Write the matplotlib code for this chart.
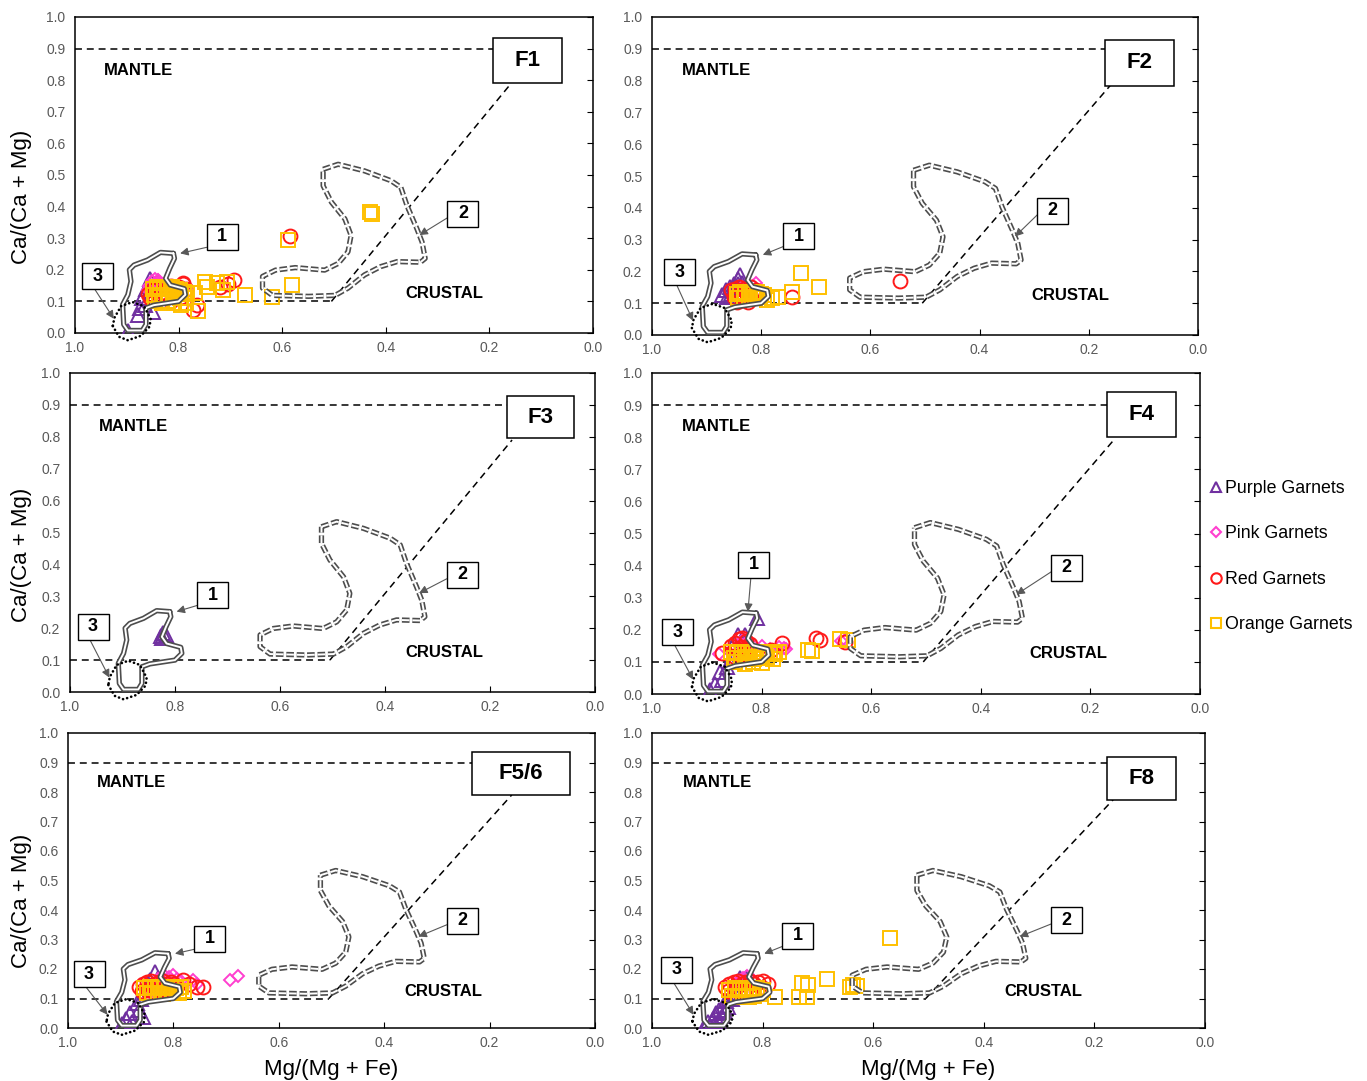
import matplotlib
matplotlib.use("Agg")
import matplotlib.pyplot as plt
from matplotlib.lines import Line2D
from matplotlib.patches import Rectangle

plt.rcParams["font.family"] = ["Liberation Sans", "DejaVu Sans"]
plt.rcParams["lines.scale_dashes"] = False

W, H = 1367, 1081

# ---------------- data: Mg/(Mg+Fe) (x) and Ca/(Ca+Mg) (y) per field ----------------
f1_purple_x = [0.897, 0.878, 0.875, 0.865, 0.849, 0.870, 0.858, 0.852, 0.845, 0.862, 0.855, 0.848, 0.840]
f1_purple_y = [0.005, 0.057, 0.079, 0.089, 0.067, 0.110, 0.150, 0.160, 0.155, 0.140, 0.170, 0.145, 0.165]
f1_pink_x = [0.858, 0.852, 0.846, 0.840, 0.835, 0.830, 0.855, 0.848, 0.842, 0.836, 0.828, 0.822, 0.860]
f1_pink_y = [0.150, 0.165, 0.172, 0.168, 0.160, 0.155, 0.140, 0.150, 0.158, 0.148, 0.150, 0.145, 0.135]
f1_red_x = [0.860, 0.852, 0.845, 0.838, 0.830, 0.822, 0.815, 0.808, 0.800, 0.792, 0.785, 0.855, 0.845,
            0.835, 0.825, 0.815, 0.805, 0.795, 0.791, 0.772, 0.765, 0.720, 0.705, 0.694, 0.585]
f1_red_y = [0.125, 0.135, 0.140, 0.145, 0.130, 0.140, 0.150, 0.135, 0.145, 0.155, 0.140, 0.110, 0.105,
            0.120, 0.110, 0.100, 0.120, 0.115, 0.157, 0.073, 0.090, 0.147, 0.155, 0.168, 0.307]
f1_orange_x = [0.850, 0.842, 0.835, 0.828, 0.820, 0.812, 0.805, 0.798, 0.790, 0.783, 0.848, 0.838,
               0.828, 0.818, 0.808, 0.798, 0.788, 0.845, 0.832, 0.820, 0.808, 0.795, 0.785,
               0.768, 0.762, 0.750, 0.746, 0.726, 0.714, 0.707, 0.672, 0.620, 0.581, 0.589, 0.430, 0.427]
f1_orange_y = [0.140, 0.145, 0.140, 0.145, 0.140, 0.145, 0.140, 0.135, 0.130, 0.125, 0.120, 0.115,
               0.120, 0.115, 0.120, 0.110, 0.110, 0.100, 0.095, 0.100, 0.095, 0.090, 0.095,
               0.126, 0.071, 0.160, 0.147, 0.157, 0.136, 0.162, 0.120, 0.115, 0.152, 0.294, 0.383, 0.377]

f2_purple_x = [0.872, 0.865, 0.858, 0.850, 0.843, 0.838, 0.862, 0.855, 0.848, 0.842, 0.835, 0.852, 0.845]
f2_purple_y = [0.125, 0.140, 0.150, 0.160, 0.175, 0.190, 0.120, 0.130, 0.145, 0.160, 0.165, 0.120, 0.130]
f2_pink_x = [0.835, 0.828, 0.815, 0.810]
f2_pink_y = [0.150, 0.140, 0.155, 0.165]
f2_red_x = [0.855, 0.848, 0.840, 0.832, 0.825, 0.818, 0.810, 0.850, 0.842, 0.834, 0.826, 0.818, 0.810,
            0.845, 0.835, 0.825, 0.744, 0.546]
f2_red_y = [0.140, 0.145, 0.150, 0.145, 0.140, 0.150, 0.140, 0.120, 0.125, 0.120, 0.125, 0.120, 0.130,
            0.105, 0.110, 0.105, 0.120, 0.170]
f2_orange_x = [0.845, 0.838, 0.830, 0.822, 0.815, 0.808, 0.800, 0.795, 0.842, 0.832, 0.822, 0.812,
               0.802, 0.790, 0.780, 0.769, 0.744, 0.728, 0.694]
f2_orange_y = [0.130, 0.135, 0.130, 0.135, 0.130, 0.135, 0.130, 0.125, 0.115, 0.115, 0.120, 0.115,
               0.120, 0.110, 0.115, 0.120, 0.136, 0.194, 0.152]

f3_purple_x = [0.826, 0.822, 0.818, 0.824]
f3_purple_y = [0.175, 0.185, 0.180, 0.170]

f4_purple_x = [0.895, 0.885, 0.873, 0.876, 0.864, 0.858, 0.843, 0.835, 0.830, 0.809, 0.850, 0.840]
f4_purple_y = [0.012, 0.030, 0.044, 0.070, 0.085, 0.100, 0.184, 0.170, 0.184, 0.236, 0.160, 0.150]
f4_pink_x = [0.878, 0.840, 0.832, 0.825, 0.818, 0.800, 0.785, 0.768, 0.760, 0.755, 0.648, 0.655]
f4_pink_y = [0.125, 0.160, 0.170, 0.165, 0.155, 0.150, 0.140, 0.145, 0.142, 0.140, 0.168, 0.165]
f4_red_x = [0.873, 0.855, 0.848, 0.842, 0.835, 0.828, 0.822, 0.852, 0.845, 0.838, 0.830, 0.823, 0.848,
            0.840, 0.832, 0.825, 0.782, 0.763, 0.700, 0.693, 0.648]
f4_red_y = [0.127, 0.150, 0.160, 0.170, 0.175, 0.165, 0.155, 0.130, 0.140, 0.145, 0.140, 0.135, 0.115,
            0.120, 0.125, 0.115, 0.137, 0.158, 0.173, 0.168, 0.163]
f4_orange_x = [0.855, 0.845, 0.835, 0.825, 0.815, 0.805, 0.795, 0.785, 0.775, 0.768, 0.850, 0.838,
               0.826, 0.814, 0.802, 0.790, 0.780, 0.848, 0.830, 0.815, 0.800, 0.715, 0.708, 0.657, 0.642]
f4_orange_y = [0.130, 0.128, 0.132, 0.130, 0.128, 0.132, 0.130, 0.128, 0.125, 0.130, 0.112, 0.110,
               0.115, 0.110, 0.112, 0.115, 0.110, 0.100, 0.095, 0.100, 0.098, 0.137, 0.135, 0.170, 0.168]

f56_purple_x = [0.897, 0.890, 0.882, 0.878, 0.870, 0.865, 0.857, 0.862, 0.850, 0.844, 0.835, 0.830]
f56_purple_y = [0.012, 0.030, 0.050, 0.020, 0.084, 0.060, 0.038, 0.100, 0.140, 0.163, 0.191, 0.170]
f56_pink_x = [0.830, 0.822, 0.815, 0.808, 0.800, 0.793, 0.785, 0.762, 0.755, 0.693, 0.677]
f56_pink_y = [0.165, 0.170, 0.175, 0.172, 0.180, 0.165, 0.160, 0.163, 0.150, 0.163, 0.176]
f56_red_x = [0.865, 0.858, 0.850, 0.842, 0.835, 0.828, 0.820, 0.812, 0.805, 0.798, 0.860, 0.850, 0.840,
             0.830, 0.820, 0.810, 0.800, 0.781, 0.770, 0.756, 0.743]
f56_red_y = [0.140, 0.150, 0.155, 0.160, 0.150, 0.155, 0.160, 0.150, 0.155, 0.150, 0.125, 0.130, 0.125,
             0.130, 0.128, 0.130, 0.135, 0.163, 0.150, 0.140, 0.138]
f56_orange_x = [0.855, 0.845, 0.835, 0.825, 0.815, 0.805, 0.795, 0.785, 0.850, 0.840, 0.830, 0.820,
                0.810, 0.800, 0.790, 0.780]
f56_orange_y = [0.135, 0.140, 0.135, 0.140, 0.135, 0.140, 0.135, 0.140, 0.120, 0.115, 0.120, 0.115,
                0.120, 0.118, 0.120, 0.125]

f8_purple_x = [0.905, 0.898, 0.890, 0.885, 0.878, 0.872, 0.866, 0.860, 0.895, 0.888, 0.880, 0.874,
               0.868, 0.862, 0.855, 0.850, 0.840, 0.830]
f8_purple_y = [0.010, 0.020, 0.030, 0.050, 0.060, 0.075, 0.090, 0.100, 0.005, 0.010, 0.025, 0.040,
               0.055, 0.070, 0.100, 0.120, 0.170, 0.170]
f8_pink_x = [0.850, 0.843, 0.835, 0.828, 0.820, 0.815]
f8_pink_y = [0.150, 0.160, 0.170, 0.175, 0.165, 0.160]
f8_red_x = [0.868, 0.860, 0.852, 0.845, 0.838, 0.830, 0.822, 0.815, 0.808, 0.800, 0.790, 0.862, 0.850,
            0.840, 0.830, 0.820, 0.810, 0.800]
f8_red_y = [0.140, 0.150, 0.155, 0.160, 0.150, 0.155, 0.160, 0.150, 0.155, 0.160, 0.150, 0.125, 0.130,
            0.125, 0.130, 0.128, 0.130, 0.135]
f8_orange_x = [0.860, 0.850, 0.840, 0.830, 0.820, 0.810, 0.800, 0.855, 0.845, 0.835, 0.825, 0.815,
               0.805, 0.778, 0.735, 0.729, 0.720, 0.717, 0.684, 0.642, 0.636, 0.629, 0.570]
f8_orange_y = [0.130, 0.135, 0.130, 0.135, 0.130, 0.135, 0.130, 0.110, 0.105, 0.110, 0.105, 0.110,
               0.115, 0.106, 0.106, 0.151, 0.106, 0.146, 0.166, 0.140, 0.146, 0.144, 0.304]

# ---------------- reference fields ----------------
field1_x = [0.810, 0.835, 0.860, 0.886, 0.895, 0.892, 0.898, 0.908, 0.906, 0.898, 0.870, 0.863,
            0.863, 0.848, 0.800, 0.787, 0.789, 0.816, 0.825, 0.817, 0.808, 0.810]
field1_y = [0.252, 0.255, 0.231, 0.215, 0.200, 0.163, 0.121, 0.090, 0.027, 0.008, 0.008, 0.027,
            0.079, 0.088, 0.100, 0.121, 0.140, 0.152, 0.173, 0.205, 0.236, 0.252]
field2_x = [0.521, 0.492, 0.441, 0.390, 0.371, 0.359, 0.340, 0.330, 0.324, 0.333, 0.378, 0.410,
            0.441, 0.473, 0.498, 0.549, 0.619, 0.638, 0.638, 0.613, 0.575, 0.518, 0.492, 0.473,
            0.467, 0.479, 0.505, 0.521, 0.521]
field2_y = [0.518, 0.534, 0.513, 0.482, 0.461, 0.403, 0.330, 0.288, 0.236, 0.224, 0.226, 0.210,
            0.184, 0.142, 0.119, 0.116, 0.119, 0.142, 0.179, 0.199, 0.207, 0.199, 0.220, 0.257,
            0.309, 0.361, 0.414, 0.466, 0.518]
field3_x = [0.927, 0.915, 0.898, 0.873, 0.856, 0.854, 0.867, 0.889, 0.911, 0.924, 0.927]
field3_y = [0.022, -0.012, -0.023, -0.009, 0.020, 0.045, 0.085, 0.098, 0.085, 0.048, 0.022]

x_ticks = [1.0, 0.8, 0.6, 0.4, 0.2, 0.0]
y_ticks = [0.0, 0.1, 0.2, 0.3, 0.4, 0.5, 0.6, 0.7, 0.8, 0.9, 1.0]

series_names = ["Purple Garnets", "Pink Garnets", "Red Garnets", "Orange Garnets"]
series_colors = ["#7030A0", "#FF3FCF", "#FF1A1A", "#FFC000"]
series_markers = ["^", "D", "o", "s"]
series_sizes = [10, 6.5, 10, 9.5]

panels = [
    dict(name="F1", px=(75, 593, 17, 333),
         data=[(f1_purple_x, f1_purple_y), (f1_pink_x, f1_pink_y), (f1_red_x, f1_red_y), (f1_orange_x, f1_orange_y)],
         fbox=(0.193, 0.060, 0.934, 0.791), crustal=0.363,
         b1=(0.716, 0.304), b1t=(0.797, 0.252), b1a="ll", b2=(0.251, 0.377), b3=(0.956, 0.180),
         ylab=True, xlab=False),
    dict(name="F2", px=(652, 1198, 17, 335),
         data=[(f2_purple_x, f2_purple_y), (f2_pink_x, f2_pink_y), (f2_red_x, f2_red_y), (f2_orange_x, f2_orange_y)],
         fbox=(0.170, 0.044, 0.928, 0.783), crustal=0.306,
         b1=(0.731, 0.311), b1t=(0.797, 0.252), b1a="ll", b2=(0.266, 0.390), b3=(0.949, 0.198),
         ylab=False, xlab=False),
    dict(name="F3", px=(70, 595, 373, 692),
         data=[(f3_purple_x, f3_purple_y), ([], []), ([], []), ([], [])],
         fbox=(0.168, 0.040, 0.928, 0.796), crustal=0.362,
         b1=(0.728, 0.304), b1t=(0.797, 0.252), b1a="ll", b2=(0.253, 0.367), b3=(0.956, 0.204),
         ylab=True, xlab=False),
    dict(name="F4", px=(652, 1200, 373, 694),
         data=[(f4_purple_x, f4_purple_y), (f4_pink_x, f4_pink_y), (f4_red_x, f4_red_y), (f4_orange_x, f4_orange_y)],
         fbox=(0.170, 0.044, 0.941, 0.801), crustal=0.312,
         b1=(0.814, 0.402), b1t=(0.825, 0.256), b1a="bc", b2=(0.243, 0.393), b3=(0.953, 0.193),
         ylab=False, xlab=False),
    dict(name="F5/6", px=(68, 595, 733, 1028),
         data=[(f56_purple_x, f56_purple_y), (f56_pink_x, f56_pink_y), (f56_red_x, f56_red_y), (f56_orange_x, f56_orange_y)],
         fbox=(0.233, 0.047, 0.936, 0.790), crustal=0.362,
         b1=(0.731, 0.302), b1t=(0.797, 0.252), b1a="ll", b2=(0.252, 0.363), b3=(0.960, 0.183),
         ylab=True, xlab=True),
    dict(name="F8", px=(652, 1205, 733, 1028),
         data=[(f8_purple_x, f8_purple_y), (f8_pink_x, f8_pink_y), (f8_red_x, f8_red_y), (f8_orange_x, f8_orange_y)],
         fbox=(0.177, 0.052, 0.919, 0.773), crustal=0.362,
         b1=(0.736, 0.312), b1t=(0.797, 0.252), b1a="ll", b2=(0.250, 0.366), b3=(0.955, 0.197),
         ylab=False, xlab=True),
]

fig = plt.figure(figsize=(W / 100, H / 100), dpi=100)

arrow_style = dict(arrowstyle="-|>", color="#595959", lw=0.8, mutation_scale=12, shrinkA=0, shrinkB=0)


def double_line(ax, x, y, dashes=None):
    kw_outer = dict(color="#4d4d4d", lw=3.8, solid_capstyle="round", zorder=6)
    kw_inner = dict(color="white", lw=1.4, solid_capstyle="round", zorder=7)
    if dashes is not None:
        kw_outer.update(ls=(0, dashes), dash_capstyle="butt")
        kw_inner.update(ls=(0, dashes), dash_capstyle="butt")
    ax.plot(x, y, **kw_outer)
    ax.plot(x, y, **kw_inner)


def number_box(ax, center, label, anchor, target, bw, bh):
    cx, cy = center
    # x axis is reversed, so the box's left edge sits at the larger x value
    left, right = cx + bw / 2, cx - bw / 2
    top, bottom = cy + bh / 2, cy - bh / 2
    ax.add_patch(Rectangle((right, bottom), bw, bh, fc="white", ec="black", lw=1.0, zorder=10))
    ax.text(cx, cy, label, fontsize=13, fontweight="bold", ha="center", va="center", zorder=11)
    if anchor == "ll":
        start = (left, bottom + bh * 0.1)
    elif anchor == "lm":
        start = (left, cy - bh * 0.15)
    else:
        start = (cx + bw * 0.1, bottom)
    ax.annotate("", xy=target, xytext=start, arrowprops=arrow_style, zorder=9)


for p in panels:
    l, r, t, b = p["px"]
    ax = fig.add_axes([l / W, 1 - b / H, (r - l) / W, (b - t) / H])
    ax.set_xlim(1.0, 0.0)
    ax.set_ylim(0.0, 1.0)
    ax.set_xticks(x_ticks)
    ax.set_yticks(y_ticks)
    ax.set_xticklabels([f"{v:.1f}" for v in x_ticks])
    ax.set_yticklabels([f"{v:.1f}" for v in y_ticks])
    ax.tick_params(axis="x", direction="in", length=4, labelsize=10, labelcolor="#595959", pad=6)
    ax.tick_params(axis="y", left=False, right=True, direction="in", length=4,
                   labelleft=True, labelright=False, labelsize=10, labelcolor="#595959", pad=7)
    for s in ax.spines.values():
        s.set_color("black")
        s.set_linewidth(1.1)

    # boundary lines between mantle and crustal fields
    fx0, fx1, fy0, fy1 = p["fbox"]
    ax.plot([1.0, 0.15], [0.9, 0.9], color="black", lw=1.1, ls=(0, (5, 3.5)), zorder=2)
    ax.plot([1.0, 0.505], [0.1, 0.1], color="black", lw=1.1, ls=(0, (5, 3.5)), zorder=2)
    ax.plot([0.505, 0.158], [0.1, 0.79], color="black", lw=1.1, ls=(0, (5, 3.5)), zorder=2)

    # garnet analyses
    for (xs, ys), c, m, ms in zip(p["data"], series_colors, series_markers, series_sizes):
        ax.plot(xs, ys, ls="none", marker=m, ms=ms, mfc="none", mec=c, mew=1.4, zorder=4)

    # reference fields
    double_line(ax, field1_x, field1_y)
    double_line(ax, field2_x, field2_y, dashes=(5.5, 2.0))
    ax.plot(field3_x, field3_y, color="black", lw=1.9, ls=(0, (0.1, 3.0)),
            dash_capstyle="round", zorder=8, clip_on=False)

    # labels
    ax.text(0.945, 0.832, "MANTLE", fontsize=12, fontweight="bold", ha="left", va="center")
    ax.text(p["crustal"], 0.125, "CRUSTAL", fontsize=12, fontweight="bold", ha="left", va="center")

    ax.add_patch(Rectangle((fx0, fy1), fx1 - fx0, fy0 - fy1, fc="white", ec="black", lw=1.1, zorder=9))
    ax.text((fx0 + fx1) / 2, (fy0 + fy1) / 2, p["name"], fontsize=16, fontweight="bold",
            ha="center", va="center", zorder=10)

    bw = 31 / (r - l)
    bh = 26 / (b - t)
    number_box(ax, p["b1"], "1", p["b1a"], p["b1t"], bw, bh)
    number_box(ax, p["b2"], "2", "lm", (0.335, 0.31), bw, bh)
    number_box(ax, p["b3"], "3", "bc", (0.925, 0.045), bw, bh)

    if p["ylab"]:
        ax.set_ylabel("Ca/(Ca + Mg)", fontsize=16)
        ax.yaxis.set_label_coords((32 - l) / (r - l), 0.43)
    if p["xlab"]:
        ax.set_xlabel("Mg/(Mg + Fe)", fontsize=16)
        ax.xaxis.set_label_coords(0.5, (b - 1059) / (b - t))

handles = [Line2D([], [], ls="none", marker=m, ms=7.5 if m != "D" else 5.5, mfc="none", mec=c, mew=1.5)
           for m, c in zip(series_markers, series_colors)]
fig.legend(handles, series_names, loc="upper left", bbox_to_anchor=(1211 / W, 1 - 480 / H),
           frameon=False, fontsize=12.8, labelspacing=1.6, handlelength=0.6, handletextpad=0.2,
           borderpad=0, borderaxespad=0)

fig.savefig("out.png", dpi=100)
